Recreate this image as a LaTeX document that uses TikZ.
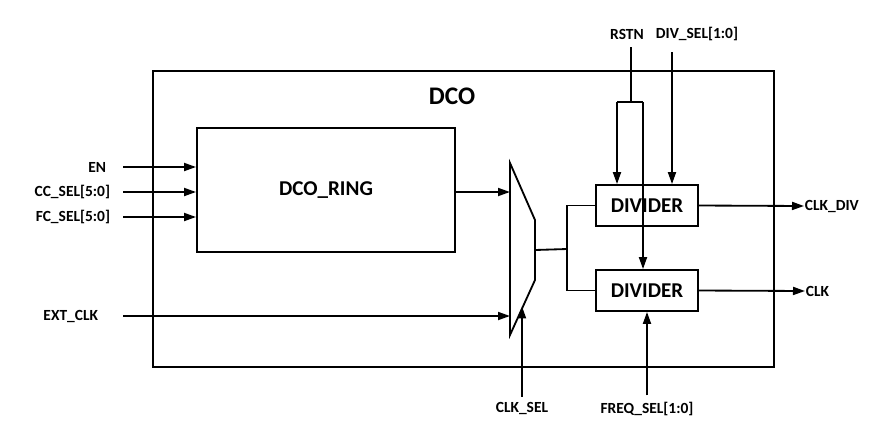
\documentclass[tikz,border=0pt]{standalone}
\usepackage{fontspec}
\setmainfont{Carlito}
\usetikzlibrary{arrows.meta, positioning, calc}

\begin{document}
\begin{tikzpicture}[
  x=0.025cm, y=-0.025cm,
  line width=1.3pt,
  every node/.style={font=\bfseries\fontsize{11}{13}\selectfont, inner sep=0pt},
  block/.style={draw, line width=1.3pt, font=\bfseries\fontsize{15}{18}\selectfont},
  arrow/.style={-{Triangle[length=3mm, width=2mm]}},
  wire/.style={line width=1.3pt}
]
  \useasboundingbox (0,0) rectangle (883,437);

  % Blocchi
  \node[block, minimum width=15.525cm, minimum height=7.4cm] (dco) at (463.5,219) {};
  \node[font=\bfseries\fontsize{18}{21}\selectfont] (dcolabel) at (452,96) {DCO};
  \node[block, minimum width=6.45cm, minimum height=3.1cm] (ring) at (326,190) {DCO\_RING};
  \node[block, minimum width=2.55cm, minimum height=1.025cm] (div1) at (647,205.5) {};
  \node[block, minimum width=2.55cm, minimum height=1.025cm] (div2) at (647,290.5) {DIVIDER};

  % Multiplexer
  \coordinate (muxtl) at (510,163);
  \coordinate (muxtr) at (535,220);
  \coordinate (muxbr) at (535,280);
  \coordinate (muxbl) at (510,335);
  \draw[wire] (muxtl) -- (muxtr) -- (muxbr) -- (muxbl) -- cycle;
  \coordinate (muxout) at ($(muxtr)!0.5!(muxbr)$);
  \coordinate (muxsel) at ($(muxbr)!0.48!(muxbl)$);
  \coordinate (split) at (567,249);

  % Segnali di ingresso
  \node[anchor=east] (en) at (107,167) {EN};
  \node[anchor=east] (ccsel) at (111,192) {CC\_SEL[5:0]};
  \node[anchor=east] (fcsel) at (111,217) {FC\_SEL[5:0]};
  \node[anchor=east] (extclk) at (99,316) {EXT\_CLK};
  \node (clksel) at (522,408) {CLK\_SEL};
  \node (freqsel) at (647,409) {FREQ\_SEL[1:0]};
  \node (rstn) at (627,34) {RSTN};
  \node (divsel) at (697,34) {DIV\_SEL[1:0]};

  % Segnali di uscita
  \node[anchor=west] (clkdiv) at (804,206) {CLK\_DIV};
  \node[anchor=west] (clk) at (805,291) {CLK};

  % Frecce di ingresso
  \draw[arrow] ([xshift=0.4cm]en.east) -- (ring.west |- en);
  \draw[arrow] ([xshift=0.3cm]ccsel.east) -- (ring.west |- ccsel);
  \draw[arrow] ([xshift=0.3cm]fcsel.east) -- (ring.west |- fcsel);
  \draw[arrow] ([xshift=0.6cm]extclk.east) -- (extclk -| muxtl);
  \draw[arrow] (ring.east |- 0,192) -- (muxtl |- 0,192);
  \draw[arrow] ([yshift=0.1cm]clksel.north) -- (clksel |- muxsel);

  % Uscita del multiplexer verso i divisori
  \draw[wire] (muxout) -- (split);
  \draw[wire] (div1.west) -| (split) |- (div2.west);

  % Reset e selezione
  \coordinate (rstnsplit) at (631,102);
  \coordinate (rstnl) at (617,102);
  \coordinate (rstnr) at (643,102);
  \draw[wire] (rstnsplit |- 0,47) -- (rstnsplit);
  \draw[wire] (rstnl) -- (rstnr);
  \draw[arrow] (rstnl) -- (rstnl |- div1.north);
  \draw[arrow] (rstnr) -- (rstnr |- div2.north);
  \draw[arrow] (672,52) -- (672,0 |- div1.north);
  \draw[arrow] ([yshift=0.15cm]freqsel.north) -- (div2.south);

  % Testo del primo divisore sopra la linea di reset
  \node[font=\bfseries\fontsize{15}{18}\selectfont] at (div1) {DIVIDER};

  % Frecce di uscita
  \draw[arrow] (div1.east) -- (clkdiv.west);
  \draw[arrow] (div2.east) -- (clk.west);
\end{tikzpicture}
\end{document}
